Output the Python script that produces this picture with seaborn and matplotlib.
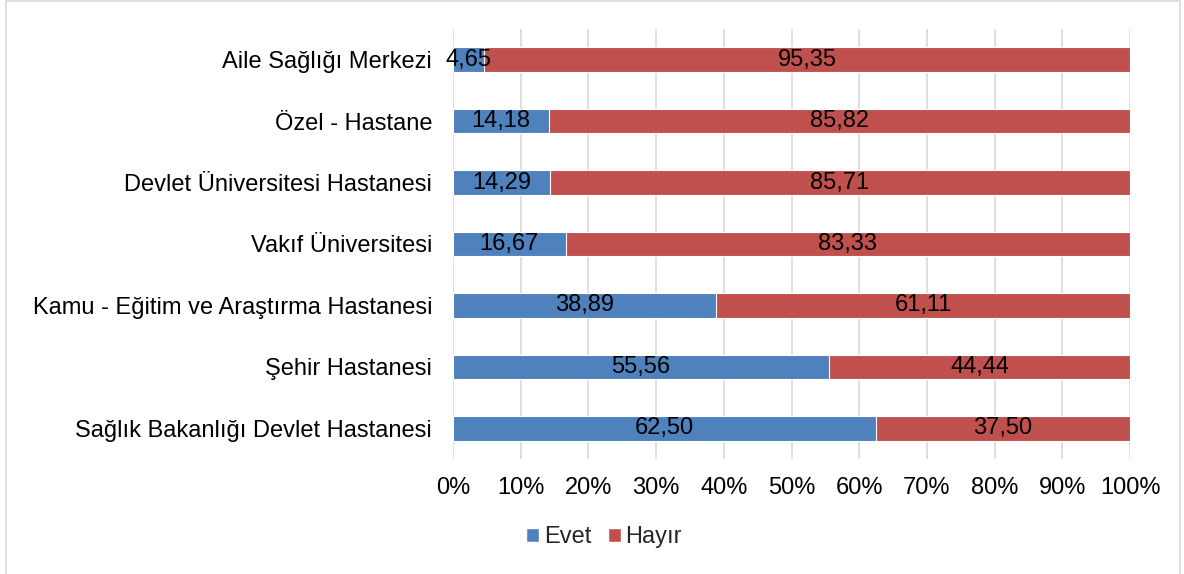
import pandas as pd
import numpy as np
import seaborn as sns
import matplotlib.pyplot as plt
from matplotlib.patches import Patch, Rectangle
from matplotlib.ticker import PercentFormatter

categories = ['Aile Sağlığı Merkezi', 'Özel - Hastane', 'Devlet Üniversitesi Hastanesi',
              'Vakıf Üniversitesi', 'Kamu - Eğitim ve Araştırma Hastanesi',
              'Şehir Hastanesi', 'Sağlık Bakanlığı Devlet Hastanesi']
evet = [4.65, 14.18, 14.29, 16.67, 38.89, 55.56, 62.50]
hayir = [95.35, 85.82, 85.71, 83.33, 61.11, 44.44, 37.50]

blue = '#4F81BD'
red = '#C0504D'

sns.set_style('white')
plt.rcParams['font.family'] = ['Liberation Sans', 'DejaVu Sans']

df = pd.DataFrame({'kurum': categories, 'Evet': evet, 'Hayır': hayir})
df['toplam'] = df['Evet'] + df['Hayır']

fig = plt.figure(figsize=(11.84, 5.74), dpi=100)
ax = fig.add_axes([453/1184, 1 - 459/574, (1130 - 453)/1184, (459 - 29)/574])

# stacked: total in red first, then Evet on top
sns.barplot(data=df, x='toplam', y='kurum', color=red, width=0.4,
            saturation=1, edgecolor='white', linewidth=0.8, ax=ax, zorder=2)
sns.barplot(data=df, x='Evet', y='kurum', color=blue, width=0.4,
            saturation=1, edgecolor='white', linewidth=0.8, ax=ax, zorder=3)

fs = 17
for i, (e, h) in enumerate(zip(evet, hayir)):
    ax.text(e / 2, i, f'{e:.2f}'.replace('.', ','), ha='center', va='center',
            fontsize=fs, color='black', zorder=5)
    ax.text(e + h / 2, i, f'{h:.2f}'.replace('.', ','), ha='center', va='center',
            fontsize=fs, color='black', zorder=5)

ax.set_xlim(0, 100)
ax.set_ylim(6.5, -0.5)
ax.set_xticks(np.arange(0, 101, 10))
ax.xaxis.set_major_formatter(PercentFormatter(decimals=0))
ax.grid(axis='x', color='#D9D9D9', linewidth=1.2, zorder=0)
ax.set_axisbelow(True)
for s in ax.spines.values():
    s.set_visible(False)
ax.tick_params(axis='both', length=0, labelsize=fs, labelcolor='black')
ax.tick_params(axis='x', pad=13)
ax.tick_params(axis='y', pad=15)
ax.set_xlabel('')
ax.set_ylabel('')

handles = [Patch(facecolor=blue, label='Evet'), Patch(facecolor=red, label='Hayır')]
fig.legend(handles=handles, loc='center', bbox_to_anchor=(0.51, 1 - 537/574),
           ncol=2, frameon=False, fontsize=fs, handlelength=0.55, handleheight=0.55,
           handletextpad=0.2, columnspacing=0.7)

fig.patches.append(Rectangle((6/1184, -0.05), (1180 - 6)/1184, 1.05 - 1/574,
                             transform=fig.transFigure, fill=False,
                             edgecolor='#D9D9D9', linewidth=1.2))

fig.savefig('out.png', dpi=100)
